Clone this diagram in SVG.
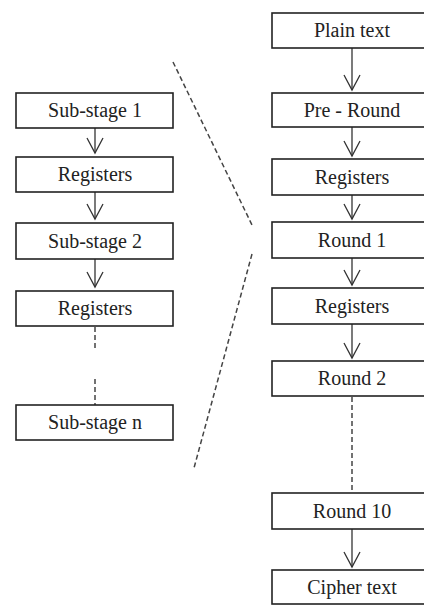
<svg xmlns="http://www.w3.org/2000/svg" width="424" height="606" viewBox="0 0 424 606">
<style>
.box{fill:#fff;stroke:#222;stroke-width:1.6}
.lbl{font-family:"Liberation Serif","Times New Roman",serif;font-size:20px;fill:#222;text-anchor:middle}
.ln{stroke:#333;stroke-width:1.3;fill:none}
.dash{stroke:#444;stroke-width:1.5;fill:none;stroke-dasharray:5,3}
.head{fill:none;stroke:#333;stroke-width:1.3}
</style>
<rect width="424" height="606" fill="#fff"/>
<g id="connectors">
<line class="ln" x1="95" y1="128" x2="95" y2="153"/>
<line class="ln" x1="95" y1="192" x2="95" y2="219"/>
<line class="ln" x1="95" y1="259" x2="95" y2="287"/>
<line class="dash" x1="95" y1="327" x2="95" y2="351"/>
<line class="dash" x1="95" y1="379" x2="95" y2="405"/>
<line class="ln" x1="352" y1="48" x2="352" y2="90"/>
<line class="ln" x1="352" y1="127" x2="352" y2="156"/>
<line class="ln" x1="352" y1="195" x2="352" y2="219"/>
<line class="ln" x1="352" y1="258" x2="352" y2="285"/>
<line class="ln" x1="352" y1="324" x2="352" y2="358"/>
<line class="dash" x1="352" y1="397" x2="352" y2="493"/>
<line class="ln" x1="352" y1="529" x2="352" y2="567"/>
<line class="dash" x1="173" y1="62" x2="252" y2="225"/>
<line class="dash" x1="252" y1="254" x2="194" y2="468"/>
<path class="head" d="M87,138 L95,153 L103,138"/>
<path class="head" d="M87,204 L95,219 L103,204"/>
<path class="head" d="M87,272 L95,287 L103,272"/>
<path class="head" d="M344,75 L352,90 L360,75"/>
<path class="head" d="M344,141 L352,156 L360,141"/>
<path class="head" d="M344,204 L352,219 L360,204"/>
<path class="head" d="M344,270 L352,285 L360,270"/>
<path class="head" d="M344,343 L352,358 L360,343"/>
<path class="head" d="M344,552 L352,567 L360,552"/>
</g>
<g id="sub1"><rect class="box" x="16" y="93" width="157" height="35"/><text class="lbl" x="95" y="117">Sub-stage 1</text></g>
<g id="reg-l1"><rect class="box" x="16" y="157" width="157" height="35"/><text class="lbl" x="95" y="181">Registers</text></g>
<g id="sub2"><rect class="box" x="16" y="223" width="157" height="36"/><text class="lbl" x="95" y="248">Sub-stage 2</text></g>
<g id="reg-l2"><rect class="box" x="16" y="291" width="157" height="35"/><text class="lbl" x="95" y="315">Registers</text></g>
<g id="subn"><rect class="box" x="16" y="405" width="157" height="35"/><text class="lbl" x="95" y="429">Sub-stage n</text></g>
<g id="plain"><rect class="box" x="272" y="13" width="166" height="35"/><text class="lbl" x="352" y="37">Plain text</text></g>
<g id="preround"><rect class="box" x="272" y="93" width="166" height="34"/><text class="lbl" x="352" y="117">Pre - Round</text></g>
<g id="reg-r1"><rect class="box" x="272" y="159" width="166" height="36"/><text class="lbl" x="352" y="184">Registers</text></g>
<g id="round1"><rect class="box" x="272" y="222" width="166" height="36"/><text class="lbl" x="352" y="247">Round 1</text></g>
<g id="reg-r2"><rect class="box" x="272" y="288" width="166" height="36"/><text class="lbl" x="352" y="313">Registers</text></g>
<g id="round2"><rect class="box" x="272" y="361" width="166" height="35"/><text class="lbl" x="352" y="385">Round 2</text></g>
<g id="round10"><rect class="box" x="272" y="493" width="166" height="36"/><text class="lbl" x="352" y="518">Round 10</text></g>
<g id="cipher"><rect class="box" x="272" y="570" width="166" height="34"/><text class="lbl" x="352" y="594">Cipher text</text></g>
</svg>
